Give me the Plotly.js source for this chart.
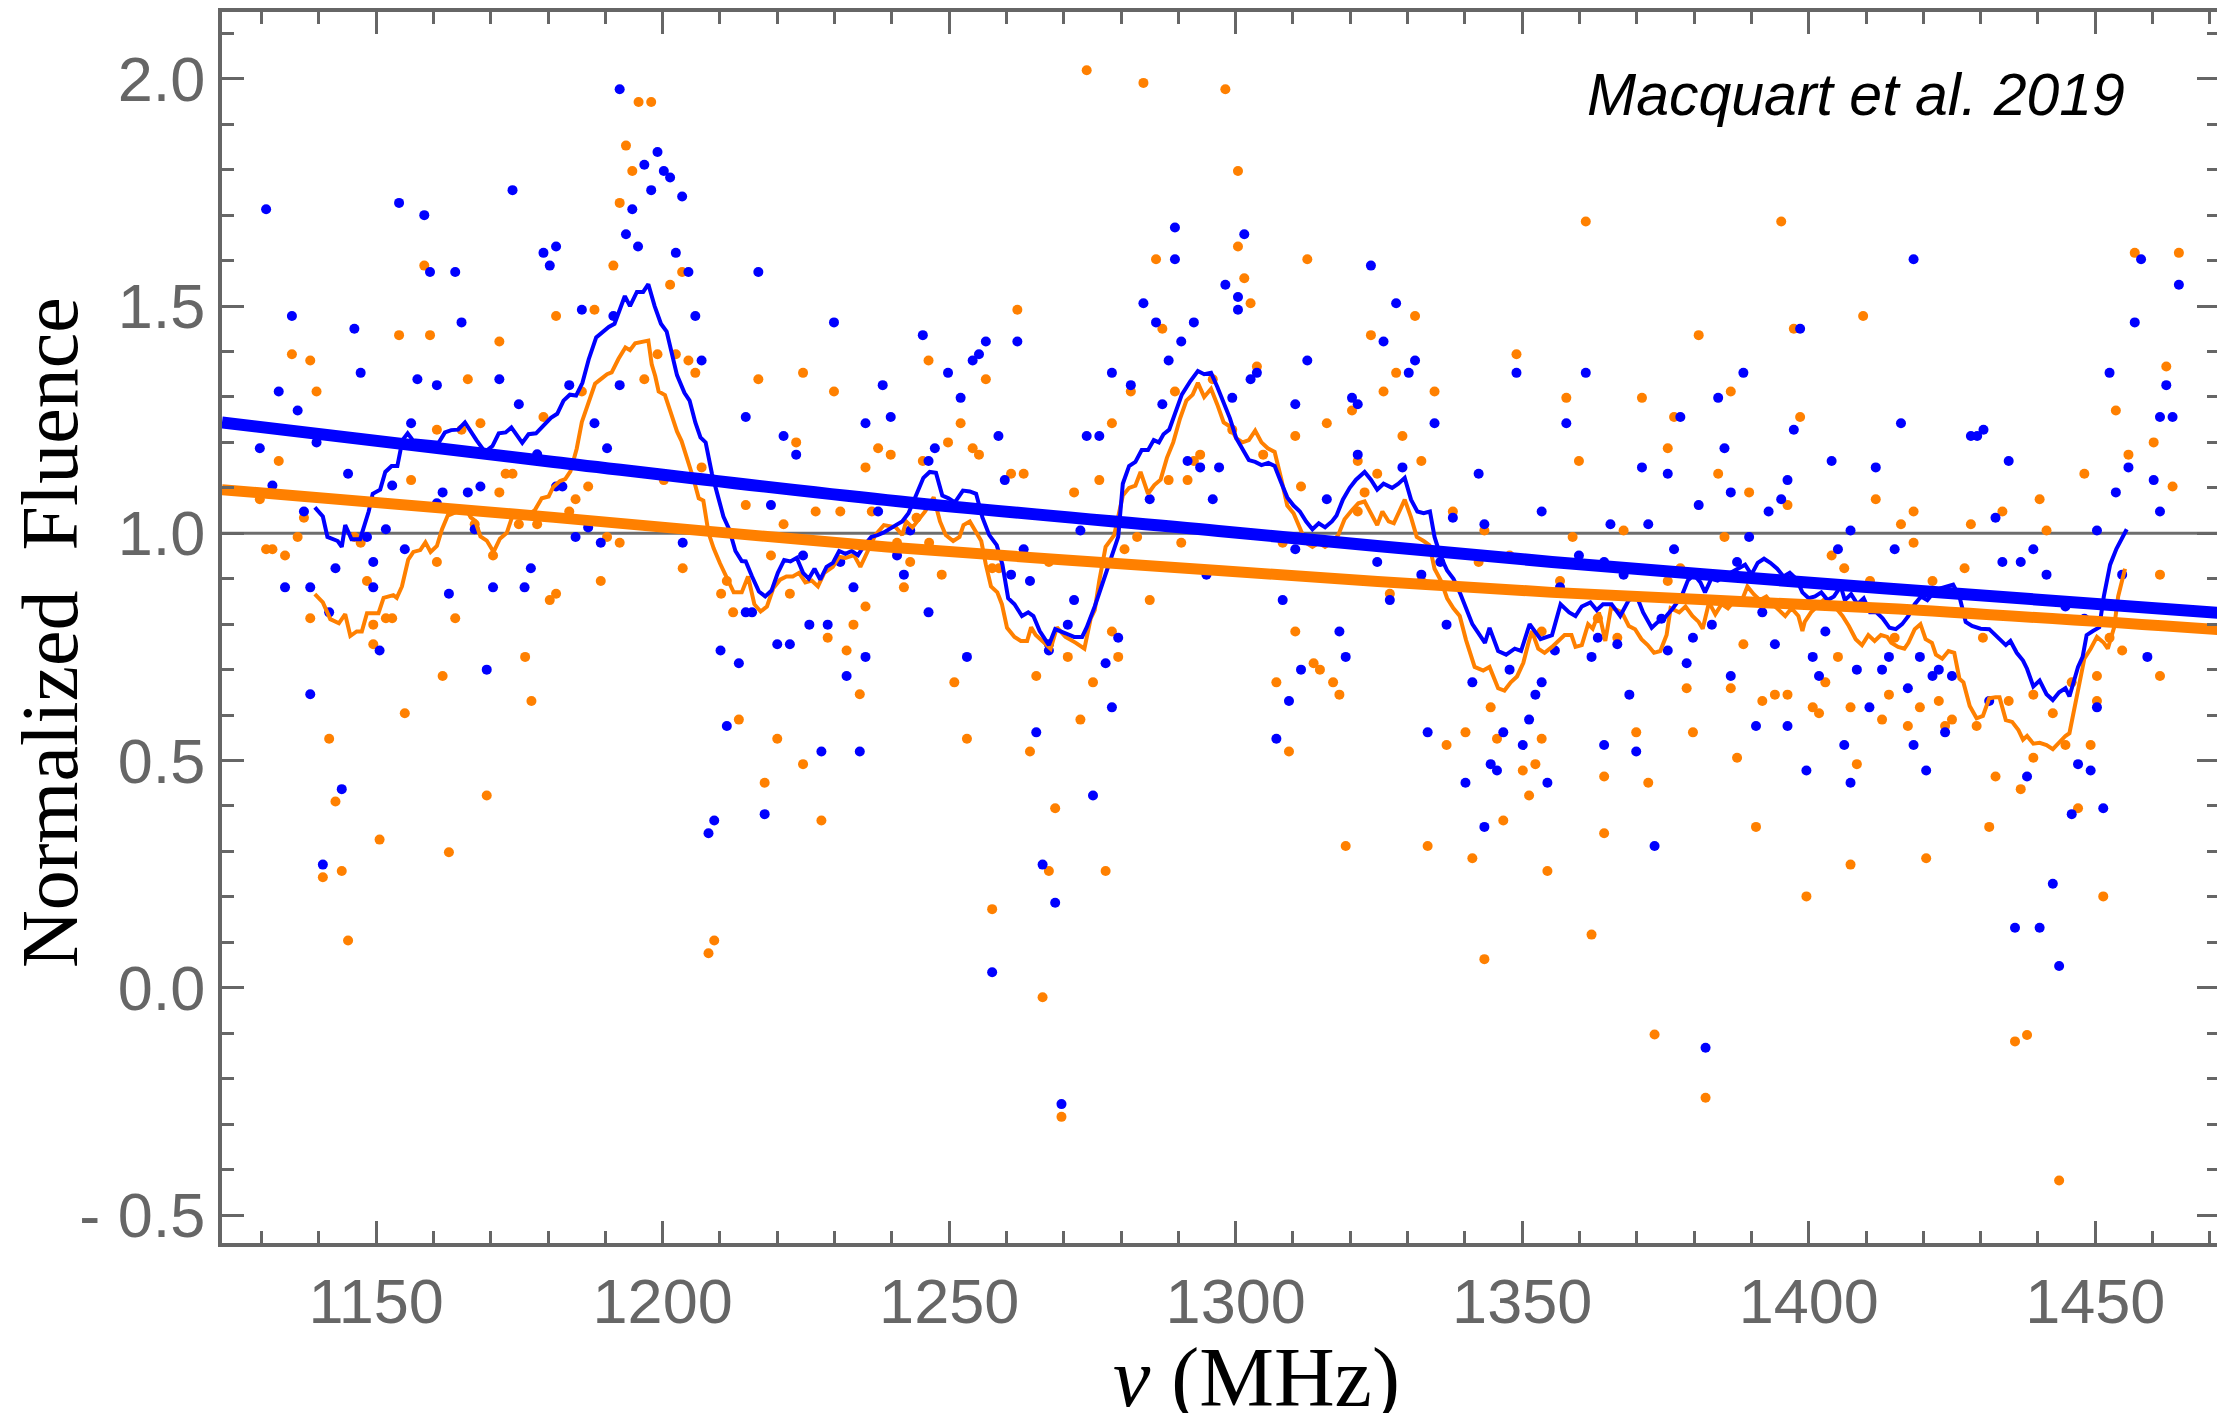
<!DOCTYPE html>
<html>
<head>
<meta charset="utf-8">
<script src="https://cdn.plot.ly/plotly-3.0.1.min.js"></script>
<style>
html,body{margin:0;padding:0;background:#fff;overflow:hidden;}
#chart{width:2219px;height:1413px;}
</style>
</head>
<body>
<div id="chart"></div>
<script>
// ---- data ----
const blueX = [1130.8,1135.3,1133.0,1136.3,1129.7,1131.9,1137.4,1139.6,1146.2,1147.3,1145.1,1154.0,1158.4,1159.4,1163.8,1164.9,1157.2,1160.6,1156.1,1152.8,1161.6,1166.0,1168.2,1173.8,1179.2,1181.4,1180.3,1171.5,1174.9,1185.9,1183.7,1191.4,1192.5,1196.8,1199.1,1200.2,1201.3,1198.0,1203.4,1194.7,1193.6,1195.7,1202.3,1204.5,1205.7,1206.8,1192.5,1188.1,1190.3,1181.4,1182.5,1178.1,1216.7,1229.9,1214.5,1221.1,1223.3,1218.9,1235.4,1238.4,1237.6,1203.5,1189.2,1184.8,1148.4,1149.5,1155.0,1142.9,1134.1,1138.5,1149.5,1141.8,1162.7,1170.4,1175.9,1177.0,1224.5,1231.0,1233.3,1214.5,1215.6,1225.6,1228.8,1151.7,1167.2,1160.6,1187.0,
1138.5,1150.6,1144.0,1140.7,1169.3,1210.1,1213.3,1211.2,1209.0,1208.0,1220.0,1222.2,1232.1,1235.4,1227.7,1234.4,1217.8,
1289.4,1301.5,1289.4,1298.2,1300.4,1300.4,1283.9,1286.1,1292.7,1290.5,1288.3,1245.4,1256.4,1261.9,1255.2,1254.1,1249.8,1252.0,1239.8,1258.6,1247.5,1246.4,1259.7,1278.4,1281.7,1287.2,1299.4,1302.6,1303.7,1274.0,1276.2,1291.6,1293.8,1297.1,1285.0,1296.0,1312.5,1310.4,1323.6,1328.0,1325.8,1331.3,1330.2,1320.3,1321.3,1334.7,1349.0,1342.4,1329.1,1321.3,1315.9,1337.9,1343.4,1353.4,1310.4,1324.7,1332.4,1326.9,1308.2,1336.8,1240.9,1242.1,1243.2,1246.4,1260.8,1263.0,1264.1,1271.8,1270.7,1272.9,1294.9,1335.7,
1253.1,1267.4,1267.4,1279.5,1277.3,1278.4,1265.2,1275.1,1266.3,1268.5,1257.5,1269.6,1318.1,1319.2,1311.4,1309.3,1307.1,1333.5,1341.3,1347.8,1352.3,1353.4,1351.2,1346.7,1350.1,1344.5,1345.6,1340.1,1354.4,1343.4,
1418.3,1458.0,1464.6,1456.9,1398.5,1361.1,1388.6,1384.2,1452.5,1462.4,1357.7,1377.6,1397.4,1416.1,1428.3,1429.4,1430.5,1461.3,1463.5,1385.3,1404.0,1411.7,1434.9,1455.8,1370.9,1375.4,1396.3,1386.4,1460.2,1453.6,1380.8,1395.2,1393.0,1461.3,1432.6,1365.4,1372.0,1407.3,1450.3,1389.6,1359.9,1364.3,1367.7,1376.5,1387.5,1405.1,1415.0,1433.8,1437.0,1439.2,1441.5,1454.7,1383.1,1391.9,1356.6,1444.8,1448.1,1374.3,
1355.7,1362.1,1363.2,1366.6,1375.4,1379.8,1378.7,1394.1,1386.4,1368.7,1364.3,1369.9,1373.1,1382.0,1390.8,1396.3,1399.6,1400.7,1401.8,1402.9,1408.4,1412.8,1414.0,1410.6,1406.2,1407.3,1417.3,1419.4,1421.6,1422.7,1425.0,1418.3,1420.5,1423.8,1431.5,1438.1,1442.6,1436.0,1440.3,1443.7,1445.9,1447.0,1449.2,1451.4,1450.3,1459.1];
const blueY = [1.713,1.478,1.312,1.270,1.187,1.105,1.048,1.200,1.450,1.353,1.131,1.727,1.700,1.575,1.575,1.464,1.339,1.326,1.242,1.105,1.090,1.090,1.103,1.755,1.617,1.631,1.589,1.339,1.284,1.492,1.326,1.478,1.977,1.811,1.839,1.797,1.783,1.755,1.741,1.713,1.658,1.631,1.617,1.575,1.478,1.380,1.326,1.242,1.187,1.103,1.103,1.174,1.575,1.464,1.256,1.214,1.173,1.062,1.242,1.326,1.048,0.979,0.979,0.992,0.992,0.937,0.965,0.923,0.881,0.881,0.881,0.826,0.867,0.881,0.881,0.923,0.951,0.937,0.881,0.826,0.826,0.799,0.799,1.009,1.009,1.066,1.013,
0.646,0.742,0.437,0.271,0.700,0.742,0.714,0.576,0.368,0.340,0.756,0.756,0.686,0.728,0.520,0.520,0.382,
1.673,1.658,1.603,1.547,1.520,1.492,1.506,1.464,1.464,1.422,1.380,1.436,1.422,1.422,1.394,1.380,1.353,1.298,1.256,1.214,1.187,1.159,1.117,1.353,1.326,1.284,1.298,1.339,1.353,1.214,1.214,1.159,1.145,1.145,1.075,1.075,1.380,1.284,1.589,1.506,1.422,1.380,1.353,1.298,1.284,1.242,1.353,1.131,1.145,1.173,1.075,1.034,1.020,1.048,0.965,0.937,0.909,0.853,0.853,0.799,0.951,0.909,1.006,0.826,0.909,0.965,0.895,0.853,0.799,1.006,0.909,0.937,
0.728,0.742,0.756,0.770,0.714,0.617,0.562,0.423,0.271,0.187,0.034,-0.256,0.784,0.728,0.700,0.631,0.548,0.562,0.672,0.700,0.645,0.672,0.590,0.562,0.534,0.492,0.478,0.451,0.451,0.354,
1.603,1.603,1.547,1.464,1.450,1.353,1.353,1.298,1.353,1.326,1.242,1.256,1.228,1.242,1.214,1.214,1.228,1.256,1.256,1.187,1.159,1.145,1.159,1.145,1.145,1.131,1.117,1.090,1.117,1.090,1.062,1.075,1.048,1.048,1.034,1.020,1.020,1.006,1.006,0.992,0.951,0.937,0.909,0.965,0.937,0.965,0.965,0.937,0.937,0.965,0.909,0.909,0.799,0.826,0.881,0.839,0.812,0.812,
0.742,0.728,0.770,0.756,0.742,0.770,0.714,0.756,0.686,0.645,0.534,0.520,0.312,-0.132,0.576,0.576,0.478,0.728,0.686,0.784,0.700,0.700,0.728,0.617,0.534,0.451,0.659,0.728,0.686,0.700,0.686,0.534,0.478,0.562,0.631,0.465,0.229,0.132,0.132,0.048,0.382,0.492,0.478,0.395,0.617,0.728];

const orangeX = [1195.8,1198.0,1193.6,1194.7,1192.5,1191.4,1203.4,1201.3,1158.4,1181.4,1188.1,1154.0,1159.4,1171.5,1135.3,1138.5,1139.6,1166.0,1185.9,1199.1,1202.3,1204.5,1205.7,1196.8,1133.0,1129.7,1137.4,1136.3,1130.8,1131.9,1134.1,1156.1,1160.6,1168.2,1164.9,1172.6,1173.8,1171.5,1179.2,1184.8,1187.0,1183.7,1174.9,1178.1,1167.2,1146.2,1147.3,1160.6,1170.4,1190.3,1192.5,1206.8,1200.2,1203.5,1189.2,1148.4,1181.4,1180.3,1138.5,1151.7,1152.8,1163.8,1149.5,1210.2,1211.2,1212.3,1214.5,1216.7,1224.5,1229.9,1221.1,1223.3,1226.7,1231.0,1218.9,1222.2,1233.3,1235.4,1235.4,1237.6,1236.5,
1149.5,1141.8,1142.9,1144.0,1140.7,1145.1,1150.6,1155.0,1161.6,1162.7,1169.3,1176.0,1177.1,1209.0,1208.0,1213.3,1220.0,1217.8,1224.5,1227.7,1228.8,1232.1,1234.4,
1274.0,1283.9,1298.2,1300.4,1300.4,1301.5,1302.6,1286.1,1287.2,1312.5,1261.9,1246.4,1256.4,1252.0,1249.8,1254.1,1255.2,1245.4,1239.8,1260.8,1263.0,1276.2,1271.8,1278.4,1281.7,1289.4,1296.0,1303.7,1288.3,1291.6,1292.7,1293.8,1299.4,1304.8,1280.6,1282.8,1290.5,1285.0,1323.6,1331.3,1328.0,1325.8,1320.3,1315.9,1310.4,1329.1,1334.7,1349.0,1332.4,1321.3,1324.7,1322.5,1321.3,1311.4,1337.9,1343.4,1342.4,1326.9,1347.8,1248.7,1243.2,1242.1,1244.3,1246.5,1240.9,1257.5,1258.7,1267.4,1332.4,1308.2,
1250.9,1253.1,1257.5,1265.2,1264.1,1270.7,1272.9,1275.1,1268.5,1267.4,1277.3,1266.3,1269.6,1279.5,1278.4,1310.4,1307.1,1309.3,1313.6,1314.7,1317.0,1318.1,1319.2,1333.5,1336.8,1340.1,1341.3,1343.4,1344.5,1345.6,1346.7,1350.1,1351.2,1352.3,1353.4,1354.4,1353.4,
1361.1,1395.2,1456.9,1464.6,1409.5,1397.4,1380.8,1462.4,1357.7,1370.9,1386.4,1376.5,1398.5,1453.6,1460.2,1359.9,1375.4,1384.2,1455.8,1463.5,1448.1,1389.6,1396.3,1411.7,1440.3,1418.3,1433.8,1416.1,1428.3,1367.7,1441.5,1358.8,1385.3,1418.3,1404.0,1406.2,1427.2,1421.6,1461.3,1356.6,1375.4,1377.6,1410.7,1363.2,
1366.6,1388.6,1378.7,1386.4,1391.9,1394.1,1396.3,1369.9,1379.8,1364.3,1372.0,1387.5,1364.3,1390.8,1362.1,1373.1,1382.0,1399.6,1400.7,1401.8,1402.9,1405.1,1407.3,1408.4,1407.3,1412.8,1414.0,1415.0,1417.3,1419.4,1420.5,1422.7,1423.8,1425.0,1429.3,1430.4,1431.5,1432.6,1434.9,1437.0,1439.2,1439.2,1442.6,1444.8,1445.9,1447.0,1449.2,1450.3,1450.3,1451.4,1436.0,1438.1,1443.7,1454.7,1461.3,1452.5];
const orangeY = [1.949,1.949,1.853,1.797,1.727,1.589,1.575,1.547,1.589,1.478,1.492,1.436,1.436,1.422,1.394,1.380,1.312,1.339,1.312,1.394,1.394,1.380,1.353,1.339,1.159,1.075,1.034,0.992,0.965,0.965,0.951,1.117,1.228,1.242,1.228,1.131,1.131,1.090,1.256,1.075,1.103,1.048,1.020,1.020,1.020,0.992,0.979,0.937,0.951,0.992,0.979,1.145,1.117,0.923,0.895,0.895,0.867,0.853,0.813,0.813,0.813,0.813,0.799,0.867,0.895,0.826,1.062,1.339,1.353,1.312,1.020,1.200,1.048,1.048,0.951,0.867,0.799,0.839,1.145,1.187,1.048,
0.756,0.548,0.410,0.257,0.243,0.104,0.326,0.604,0.686,0.298,0.423,0.728,0.631,0.104,0.076,0.590,0.548,0.451,0.492,0.368,0.770,0.742,0.646,
2.019,1.991,1.977,1.797,1.631,1.561,1.506,1.603,1.450,1.603,1.492,1.380,1.339,1.242,1.200,1.187,1.173,1.159,1.173,1.131,1.131,1.117,1.090,1.242,1.312,1.312,1.339,1.367,1.117,1.117,1.159,1.173,1.228,1.173,0.965,0.992,0.979,0.853,1.436,1.478,1.353,1.312,1.270,1.242,1.214,1.214,1.312,1.394,1.159,1.159,1.131,1.090,1.048,1.103,1.048,1.006,0.937,0.867,0.951,0.909,0.937,0.881,1.034,0.979,0.979,0.923,0.923,0.937,0.895,0.979,
0.672,0.548,0.173,0.686,0.520,0.728,0.590,0.672,0.395,0.257,0.257,-0.021,-0.284,0.728,0.784,0.784,0.672,0.520,0.714,0.700,0.672,0.645,0.312,0.312,0.534,0.562,0.285,0.063,0.617,0.548,0.368,0.478,0.423,0.492,0.548,0.257,0.784,
1.686,1.686,1.617,1.617,1.478,1.450,1.436,1.367,1.298,1.298,1.312,1.256,1.256,1.270,1.200,1.159,1.187,1.131,1.173,1.103,1.131,1.090,1.062,1.075,1.075,1.048,1.048,1.020,1.020,1.006,1.006,0.992,0.992,0.979,0.951,0.923,0.923,0.895,0.909,0.895,0.895,0.923,0.895,0.813,
0.770,0.756,0.659,0.659,0.631,0.645,0.645,0.562,0.562,0.465,0.451,0.506,0.340,0.354,0.117,-0.103,-0.242,0.201,0.617,0.604,0.672,0.728,0.617,0.492,0.271,0.590,0.645,0.770,0.576,0.617,0.285,0.631,0.576,0.590,0.576,0.770,0.354,0.465,0.631,0.437,0.506,0.645,0.604,0.534,0.672,0.395,0.534,0.686,0.631,0.201,-0.118,-0.104,-0.424,0.742,0.686,0.770];

const blueMeanX = [1139.3,1140.7,1141.5,1143.3,1144.0,1144.6,1145.7,1147.2,1148.7,1149.4,1150.7,1151.6,1152.7,1153.7,1154.6,1155.5,1156.4,1160.9,1162.0,1163.1,1164.3,1165.5,1167.5,1169.0,1170.3,1171.4,1172.6,1173.6,1175.5,1176.6,1177.9,1179.0,1180.5,1181.6,1182.7,1183.8,1184.9,1186.0,1187.1,1188.4,1189.7,1190.6,1191.6,1193.4,1194.3,1195.5,1196.6,1197.5,1198.6,1199.7,1200.7,1201.7,1202.5,1203.8,1204.7,1205.7,1206.6,1207.5,1208.6,1209.7,1210.6,1211.6,1212.7,1213.8,1214.5,1215.6,1216.8,1217.9,1219.0,1220.1,1221.2,1222.3,1223.4,1224.5,1225.5,1226.5,1227.5,1228.6,1229.7,1230.8,1231.9,1233.0,1234.1,1235.2,1236.4,1237.5,1238.6,
1240.7,1241.8,1242.9,1244.4,1245.5,1246.6,1247.7,1248.8,1249.9,1251.0,1252.4,1253.6,1254.7,1255.8,1257.0,1258.3,1259.3,1260.3,1261.4,1262.7,1263.8,1264.7,1265.8,1267.4,1268.5,1270.3,1271.8,1273.2,1274.0,1275.4,1276.9,1278.0,1279.5,1280.3,1281.4,1282.5,1283.6,1284.7,1285.7,1286.6,1287.4,1288.4,1289.5,1290.6,1292.1,1293.4,1294.5,1295.7,1296.8,1297.9,1299.0,1300.1,1301.2,1302.3,1303.4,1304.5,1305.7,1306.8,1307.9,1309.0,1310.1,1311.2,1312.3,1313.4,1314.5,1315.6,1316.8,1317.6,1318.7,1319.9,1321.0,1322.5,1323.6,1324.7,1325.8,1327.3,1328.4,1329.5,1330.6,1331.7,1332.8,1333.9,1334.7,1335.8,1336.9,1338.0,1339.1,1340.2,1341.3,1343.5,1344.3,1345.8,1347.2,1348.7,1349.8,1351.3,1353.2,1355.2,
1356.7,1358.2,1359.3,1360.4,1361.9,1363.0,1364.1,1365.6,1367.1,1368.6,1370.0,1371.1,1372.6,1373.7,1374.8,1376.3,1377.8,1378.9,1380.0,1381.1,1381.9,1383.0,1384.1,1385.2,1386.3,1387.8,1388.9,1390.0,1391.1,1392.2,1393.3,1394.5,1395.6,1396.7,1397.8,1398.9,1400.0,1401.1,1402.2,1403.3,1404.4,1405.6,1406.3,1407.4,1408.5,1409.6,1410.7,1411.8,1412.9,1414.1,1415.2,1416.3,1417.4,1418.5,1419.6,1420.7,1421.8,1423.0,1424.1,1425.2,1426.3,1427.4,1428.5,1430.0,1431.5,1432.9,1434.4,1435.2,1436.3,1437.4,1438.1,1439.2,1440.3,1441.5,1442.6,1443.7,1444.8,1445.5,1446.3,1447.0,1447.8,1448.5,1449.6,1450.7,1451.5,1452.6,1453.7,1454.8,1455.5];
const blueMeanY = [1.057,1.037,0.992,0.983,0.970,1.018,0.987,0.987,1.048,1.087,1.096,1.135,1.148,1.148,1.205,1.220,1.205,1.199,1.222,1.227,1.228,1.244,1.205,1.179,1.192,1.220,1.222,1.233,1.199,1.218,1.220,1.235,1.254,1.263,1.292,1.305,1.303,1.331,1.383,1.431,1.444,1.454,1.461,1.522,1.500,1.531,1.531,1.548,1.500,1.461,1.444,1.392,1.348,1.309,1.292,1.244,1.211,1.200,1.131,1.079,1.037,1.009,0.961,0.939,0.938,0.905,0.872,0.861,0.874,0.913,0.941,0.938,0.946,0.913,0.900,0.922,0.898,0.926,0.935,0.961,0.955,0.961,0.952,0.974,0.992,0.996,1.002,
1.018,1.026,1.044,1.087,1.122,1.135,1.133,1.083,1.077,1.068,1.094,1.092,1.087,1.035,0.996,0.974,0.931,0.857,0.844,0.818,0.826,0.818,0.785,0.754,0.789,0.780,0.772,0.772,0.793,0.839,0.896,0.931,0.992,1.109,1.148,1.157,1.183,1.183,1.205,1.200,1.218,1.228,1.270,1.305,1.335,1.357,1.350,1.353,1.322,1.287,1.253,1.209,1.187,1.161,1.157,1.150,1.155,1.148,1.113,1.079,1.061,1.048,1.026,1.009,1.022,1.013,1.026,1.039,1.074,1.100,1.118,1.135,1.118,1.096,1.109,1.100,1.109,1.122,1.074,1.048,1.044,1.048,0.992,0.948,0.918,0.900,0.870,0.835,0.800,0.759,0.792,0.741,0.733,0.746,0.741,0.800,0.767,0.776,
0.844,0.826,0.818,0.839,0.848,0.831,0.844,0.844,0.818,0.853,0.861,0.826,0.792,0.805,0.813,0.835,0.861,0.896,0.909,0.892,0.870,0.900,0.896,0.905,0.913,0.922,0.931,0.909,0.935,0.944,0.935,0.922,0.905,0.913,0.900,0.870,0.857,0.861,0.870,0.853,0.861,0.883,0.853,0.866,0.844,0.857,0.826,0.826,0.813,0.792,0.789,0.800,0.818,0.844,0.861,0.853,0.870,0.879,0.883,0.887,0.861,0.805,0.796,0.790,0.789,0.772,0.754,0.763,0.737,0.720,0.702,0.663,0.676,0.646,0.633,0.650,0.659,0.641,0.680,0.706,0.728,0.776,0.785,0.793,0.861,0.931,0.966,0.992,1.009];

const orangeMeanX = [1139.3,1140.7,1142.0,1143.5,1144.6,1145.5,1146.6,1147.5,1148.4,1150.4,1151.3,1153.0,1153.6,1154.5,1155.6,1156.5,1157.7,1158.6,1159.5,1160.6,1161.5,1162.5,1163.6,1164.7,1165.6,1166.5,1167.3,1168.2,1169.3,1170.5,1171.6,1172.8,1173.7,1174.8,1176.3,1177.7,1178.9,1180.1,1180.9,1182.1,1183.0,1183.9,1185.0,1185.9,1187.1,1188.2,1189.1,1190.3,1191.1,1192.3,1193.5,1194.3,1195.2,1196.4,1197.5,1198.1,1198.7,1199.3,1200.4,1201.3,1202.5,1203.3,1204.2,1205.4,1206.3,1207.1,1208.0,1208.9,1210.0,1211.2,1212.4,1213.8,1214.9,1216.0,1217.1,1218.2,1219.3,1220.5,1221.6,1222.7,1223.8,1224.9,1226.0,1227.1,1228.2,1229.7,1230.8,1231.9,1233.4,1234.5,1235.6,1237.1,1238.6,
1240.7,1241.8,1242.5,1243.6,1244.7,1245.8,1247.3,1248.4,1249.4,1250.7,1251.8,1252.5,1253.6,1254.7,1255.6,1256.4,1257.3,1258.4,1259.2,1260.1,1261.4,1262.5,1263.6,1264.3,1265.1,1266.6,1267.7,1268.8,1270.3,1272.1,1273.6,1274.7,1275.4,1276.2,1277.3,1278.8,1280.3,1281.4,1282.5,1283.4,1284.7,1285.8,1286.9,1288.0,1289.1,1290.3,1291.4,1292.5,1293.4,1294.5,1295.7,1296.8,1297.9,1299.0,1300.1,1301.2,1302.3,1303.4,1304.5,1305.6,1306.8,1307.9,1309.0,1310.1,1311.2,1312.3,1313.4,1314.5,1315.6,1316.8,1317.9,1319.0,1320.1,1321.4,1322.5,1323.6,1324.7,1325.6,1326.7,1327.6,1328.4,1329.5,1330.6,1331.6,1332.8,1333.8,1334.7,1335.8,1336.9,1338.0,1339.1,1340.2,1341.7,1343.2,1344.3,1345.8,1346.9,1348.0,1349.1,1350.2,1351.1,1351.7,1352.8,1353.9,1355.2,
1356.3,1357.4,1358.6,1359.3,1360.4,1361.5,1362.3,1363.4,1364.5,1365.5,1367.4,1368.6,1369.7,1370.8,1371.9,1373.0,1374.1,1375.2,1375.9,1377.4,1378.5,1379.7,1380.8,1381.5,1382.6,1383.7,1384.8,1385.9,1387.1,1388.2,1389.3,1390.4,1391.5,1392.6,1393.7,1394.8,1395.9,1397.0,1398.2,1398.9,1399.3,1400.4,1401.5,1402.6,1403.7,1404.8,1405.9,1407.0,1408.2,1409.3,1410.4,1411.5,1412.6,1413.7,1414.4,1415.6,1416.7,1417.4,1418.5,1419.5,1420.4,1421.5,1422.2,1423.3,1424.4,1425.4,1426.3,1427.0,1428.1,1429.3,1430.4,1431.5,1432.6,1433.3,1434.4,1435.5,1436.6,1437.4,1438.1,1439.2,1440.3,1441.5,1442.6,1443.7,1444.8,1445.5,1446.6,1447.4,1448.1,1449.2,1450.3,1451.5,1452.2,1453.3,1454.0,1455.2];
const orangeMeanY = [0.866,0.848,0.811,0.802,0.822,0.774,0.784,0.784,0.824,0.824,0.858,0.864,0.858,0.883,0.942,0.959,0.963,0.980,0.959,0.972,1.009,1.039,1.045,1.051,1.056,1.035,1.027,0.993,0.984,0.959,0.988,1.001,1.035,1.039,1.039,1.051,1.077,1.081,1.102,1.115,1.119,1.136,1.186,1.245,1.287,1.329,1.338,1.350,1.354,1.384,1.409,1.403,1.418,1.420,1.424,1.371,1.346,1.312,1.304,1.270,1.224,1.203,1.169,1.119,1.077,1.072,1.001,0.967,0.934,0.900,0.870,0.870,0.905,0.844,0.828,0.839,0.879,0.898,0.905,0.905,0.913,0.892,0.896,0.883,0.913,0.926,0.948,0.946,0.952,0.926,0.957,0.996,1.018,
1.013,0.996,1.026,1.013,1.031,1.048,1.079,1.026,0.996,0.983,0.992,1.018,1.026,1.000,0.983,0.931,0.883,0.870,0.844,0.792,0.772,0.763,0.763,0.793,0.776,0.759,0.746,0.793,0.772,0.759,0.746,0.813,0.831,0.896,0.970,0.996,1.083,1.100,1.105,1.135,1.087,1.106,1.118,1.166,1.200,1.253,1.292,1.305,1.331,1.300,1.318,1.283,1.244,1.235,1.209,1.200,1.205,1.226,1.200,1.187,1.179,1.122,1.061,1.044,1.009,0.979,0.970,0.979,0.970,0.979,0.996,1.031,1.048,1.066,1.070,1.044,1.018,1.048,1.026,1.022,1.044,1.074,1.035,0.992,0.983,0.974,0.922,0.896,0.857,0.835,0.818,0.765,0.706,0.698,0.706,0.659,0.654,0.672,0.685,0.715,0.759,0.785,0.746,0.737,0.750,
0.763,0.776,0.776,0.750,0.754,0.800,0.790,0.826,0.763,0.837,0.826,0.796,0.789,0.767,0.754,0.737,0.741,0.776,0.835,0.826,0.839,0.818,0.805,0.790,0.848,0.822,0.844,0.835,0.853,0.848,0.883,0.866,0.853,0.861,0.844,0.831,0.818,0.835,0.818,0.785,0.805,0.826,0.839,0.853,0.835,0.835,0.818,0.796,0.767,0.754,0.776,0.763,0.776,0.772,0.759,0.750,0.746,0.759,0.789,0.800,0.767,0.759,0.733,0.724,0.741,0.737,0.680,0.672,0.620,0.593,0.598,0.637,0.639,0.639,0.589,0.585,0.567,0.546,0.554,0.537,0.539,0.534,0.525,0.541,0.554,0.560,0.628,0.680,0.724,0.746,0.772,0.759,0.746,0.793,0.861,0.922];

const fitX = [1123.1,1181.0,1239.2,1297.0,1355.2,1413.0,1471.6];
const blueFitY = [1.244,1.157,1.073,1.005,0.937,0.879,0.825];
const orangeFitY = [1.096,1.035,0.970,0.918,0.870,0.835,0.788];

const xTickVals = [1150,1200,1250,1300,1350,1400,1450];
const yTickVals = [-0.5,0.0,0.5,1.0,1.5,2.0];
const yTickText = ['- 0.5','0.0','0.5','1.0','1.5','2.0'];

const BLUE = '#0000ff', ORANGE = '#ff8000', AX = '#666666';

const traces = [
  {x: orangeX, y: orangeY, type: 'scatter', mode: 'markers', marker: {color: ORANGE, size: 10}, hoverinfo: 'skip'},
  {x: blueX, y: blueY, type: 'scatter', mode: 'markers', marker: {color: BLUE, size: 10}, hoverinfo: 'skip'},
  {x: orangeMeanX, y: orangeMeanY, type: 'scatter', mode: 'lines', line: {color: ORANGE, width: 4}, hoverinfo: 'skip'},
  {x: blueMeanX, y: blueMeanY, type: 'scatter', mode: 'lines', line: {color: BLUE, width: 4}, hoverinfo: 'skip'},
  {x: fitX, y: orangeFitY, type: 'scatter', mode: 'lines', line: {color: ORANGE, width: 11, shape: 'spline'}, hoverinfo: 'skip'},
  {x: fitX, y: blueFitY, type: 'scatter', mode: 'lines', line: {color: BLUE, width: 12, shape: 'spline'}, hoverinfo: 'skip'}
];

const tickFont = {family: 'Liberation Sans, Arial, sans-serif', size: 63, color: AX};

const layout = {
  width: 2219, height: 1413,
  margin: {l: 222, r: 0, t: 12, b: 170, pad: 0},
  paper_bgcolor: '#ffffff', plot_bgcolor: '#ffffff',
  showlegend: false,
  xaxis: {
    range: [1123.1, 1471.6], showgrid: false, zeroline: false,
    showline: true, linecolor: AX, linewidth: 4, mirror: 'allticks',
    ticks: 'inside', ticklen: 22, tickwidth: 3, tickcolor: AX,
    tickmode: 'array', tickvals: xTickVals,
    tickfont: tickFont, ticklabelstandoff: 0,
    minor: {tick0: 1150, dtick: 10, ticks: 'inside', ticklen: 12, tickwidth: 3, tickcolor: AX}
  },
  yaxis: {
    range: [-0.5616, 2.147], showgrid: false, zeroline: false,
    showline: true, linecolor: AX, linewidth: 4, mirror: 'allticks',
    ticks: 'inside', ticklen: 22, tickwidth: 3, tickcolor: AX,
    tickmode: 'array', tickvals: yTickVals, ticktext: yTickText,
    tickfont: tickFont, ticklabelstandoff: 0,
    minor: {tick0: -0.5, dtick: 0.1, ticks: 'inside', ticklen: 12, tickwidth: 3, tickcolor: AX}
  },
  shapes: [
    {type: 'line', xref: 'paper', x0: 0, x1: 1, yref: 'y', y0: 1, y1: 1, layer: 'below', line: {color: '#6e6e6e', width: 3}}
  ],
  annotations: [
    {text: '<i>Macquart et al. 2019</i>', xref: 'paper', yref: 'paper', x: 0.954, y: 0.9326, xanchor: 'right', yanchor: 'middle', showarrow: false,
     font: {family: 'Liberation Sans, Arial, sans-serif', size: 59, color: '#000000'}},
    {text: 'Normalized\u00A0\u00A0Fluence', xref: 'paper', yref: 'paper', x: -0.0861, y: 0.4955, xanchor: 'center', yanchor: 'middle', textangle: -90, showarrow: false,
     font: {family: 'Liberation Serif, Times New Roman, serif', size: 80, color: '#000000'}},
    {text: '<i>ν</i>\u00A0(MHz)', xref: 'paper', yref: 'paper', x: 0.5178, y: -0.07, xanchor: 'center', yanchor: 'top', showarrow: false,
     font: {family: 'Liberation Serif, Times New Roman, serif', size: 84, color: '#000000'}}
  ]
};

Plotly.newPlot('chart', traces, layout, {staticPlot: true, displayModeBar: false});
</script>
</body>
</html>
